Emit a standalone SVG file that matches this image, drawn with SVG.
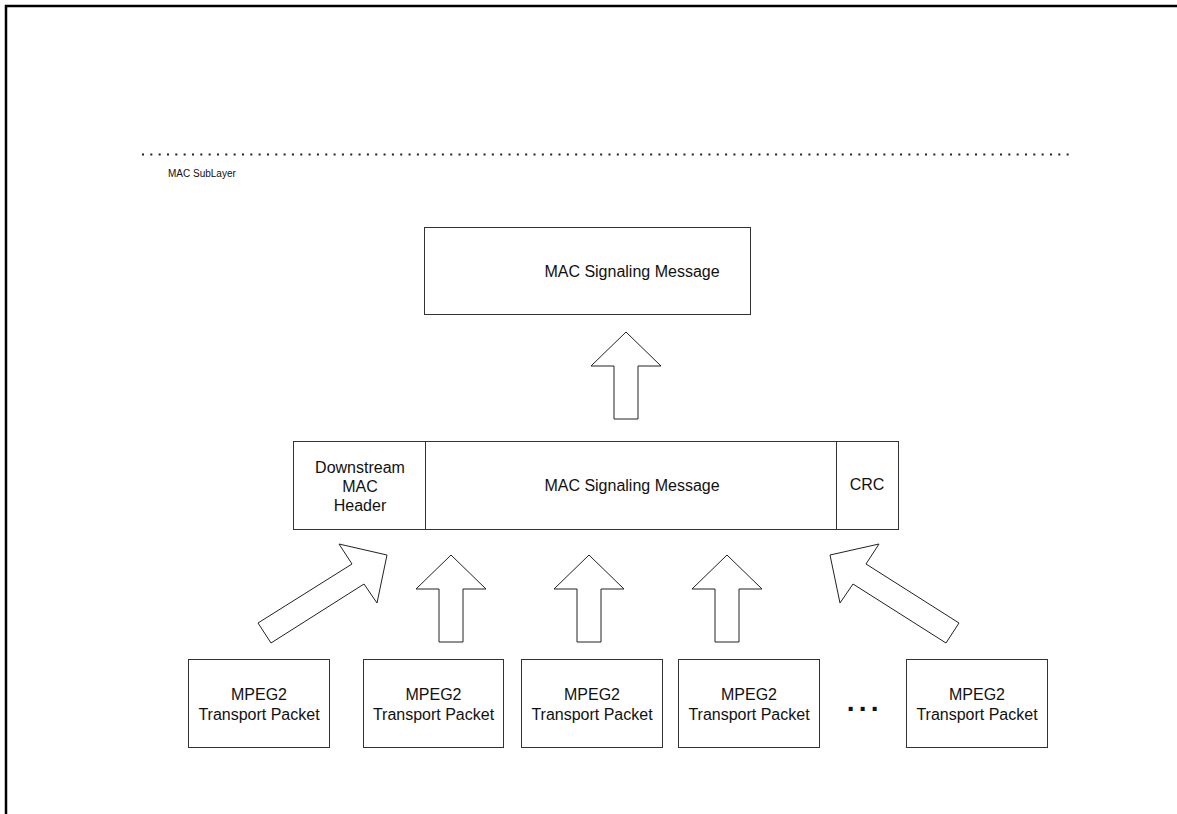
<svg xmlns="http://www.w3.org/2000/svg" width="1177" height="814" viewBox="0 0 1177 814">
<style>
text{font-family:"Liberation Sans",Arial,sans-serif;fill:#111}
.lbl{font-size:16px;text-anchor:middle}
.box{fill:#fff;stroke:#333;stroke-width:1}
.arr{fill:#fff;stroke:#222;stroke-width:1;stroke-linejoin:miter}
</style>
<rect width="1177" height="814" fill="#fff"/>
<path d="M6,814 L6,6 L1177,6" fill="none" stroke="#000" stroke-width="2.5"/>
<g id="sublayer">
<line x1="142" y1="154.5" x2="1070" y2="154.5" stroke="#222" stroke-width="2" stroke-dasharray="2 6.33"/>
<text x="168" y="177" font-size="10px">MAC SubLayer</text>
</g>
<g id="top-message">
<rect class="box" x="424.5" y="227.5" width="326" height="87"/>
<text class="lbl" x="632" y="277">MAC Signaling Message</text>
</g>
<g id="frame">
<rect class="box" x="293.5" y="441.5" width="605" height="88"/>
<line x1="425.5" y1="441.5" x2="425.5" y2="529.5" stroke="#333"/>
<line x1="836.5" y1="441.5" x2="836.5" y2="529.5" stroke="#333"/>
<text class="lbl" x="360" y="473">Downstream</text>
<text class="lbl" x="360" y="492">MAC</text>
<text class="lbl" x="360" y="511">Header</text>
<text class="lbl" x="632" y="491">MAC Signaling Message</text>
<text class="lbl" x="867" y="490">CRC</text>
</g>
<g id="packet1">
<rect class="box" x="188.5" y="659.5" width="141" height="88"/>
<text class="lbl" x="259" y="700">MPEG2</text>
<text class="lbl" x="259" y="720">Transport Packet</text>
</g>
<g id="packet2">
<rect class="box" x="363.5" y="659.5" width="140" height="88"/>
<text class="lbl" x="433.5" y="700">MPEG2</text>
<text class="lbl" x="433.5" y="720">Transport Packet</text>
</g>
<g id="packet3">
<rect class="box" x="521.5" y="659.5" width="141" height="88"/>
<text class="lbl" x="592" y="700">MPEG2</text>
<text class="lbl" x="592" y="720">Transport Packet</text>
</g>
<g id="packet4">
<rect class="box" x="678.5" y="659.5" width="141" height="88"/>
<text class="lbl" x="749" y="700">MPEG2</text>
<text class="lbl" x="749" y="720">Transport Packet</text>
</g>
<g id="ellipsis">
<text x="846.8" y="711" font-size="28px" font-weight="bold" letter-spacing="4.2">...</text>
</g>
<g id="packet5">
<rect class="box" x="906.5" y="659.5" width="141" height="88"/>
<text class="lbl" x="977" y="700">MPEG2</text>
<text class="lbl" x="977" y="720">Transport Packet</text>
</g>
<g id="connectors">
<polygon class="arr" points="626,332 661,366 638,366 638,419 614,419 614,366 591,366"/>
<polygon class="arr" points="387,555 377,603 364,584 271,643 258,623 352,564 339,544"/>
<polygon class="arr" points="451,555 486,589 463,589 463,642 439,642 439,589 416,589"/>
<polygon class="arr" points="589,555 624,589 601,589 601,642 577,642 577,589 554,589"/>
<polygon class="arr" points="727,555 762,589 739,589 739,642 715,642 715,589 692,589"/>
<polygon class="arr" points="830,555 840,603 853,584 946,643 959,623 866,564 879,544"/>
</g>
</svg>
